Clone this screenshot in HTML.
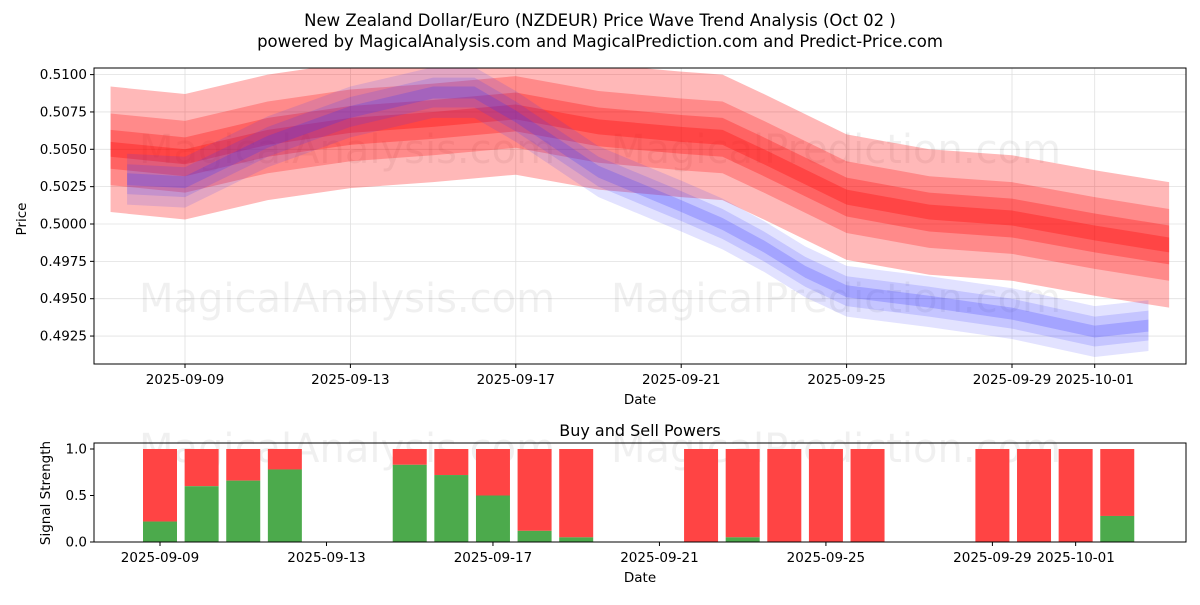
<!DOCTYPE html>
<html><head><meta charset="utf-8">
<style>
body{margin:0;background:#fff;font-family:"Liberation Sans","DejaVu Sans",sans-serif;}
svg text{font-family:"DejaVu Sans","Liberation Sans",sans-serif;}
</style></head>
<body>
<svg id="c" width="1200" height="600" viewBox="0 0 1200 600" xmlns="http://www.w3.org/2000/svg">
<defs><clipPath id="pc"><rect x="94" y="68" width="1092" height="296"/></clipPath></defs>
<rect width="1200" height="600" fill="#fff"/>
<text x="600" y="26" text-anchor="middle" font-size="16.5">New Zealand Dollar/Euro (NZDEUR) Price Wave Trend Analysis (Oct 02 )</text>
<text x="600" y="47" text-anchor="middle" font-size="16.5">powered by MagicalAnalysis.com and MagicalPrediction.com and Predict-Price.com</text>
<g id="topg"></g>
<g id="bandg" clip-path="url(#pc)"></g>
<g id="topaxes"></g>
<g id="botg"></g>
</svg>
<script>
// ---- data ----
const yTicks = [0.4925,0.4950,0.4975,0.5000,0.5025,0.5050,0.5075,0.5100];
const xTickDays = [0,4,8,12,16,20,22];
const xTickLabels = ["2025-09-09","2025-09-13","2025-09-17","2025-09-21","2025-09-25","2025-09-29","2025-10-01"];
const redDays = [-1.8,0,2,4,6,8,10,12,13,14,16,18,20,22,23.8];
const redVals = [0.5050,0.5045,0.5058,0.5066,0.5070,0.5075,0.5065,0.5060,0.5058,0.5045,0.5018,0.5008,0.5004,0.4994,0.4986];
const blueDays = [-1.4,0,2,4,6,7,8,10,12,13,14,15,16,18,20,22,23.3];
const blueVals = [0.5030,0.5028,0.5055,0.5075,0.5088,0.5088,0.5072,0.5035,0.5012,0.5000,0.4985,0.4968,0.4955,0.4948,0.4940,0.4928,0.4932];
const barDays = [0,1,2,3,6,7,8,9,10,13,14,15,16,17,20,21,22,23];
const buyVals = [0.22,0.60,0.66,0.78,0.83,0.72,0.50,0.12,0.05,0.0,0.05,0.0,0.0,0.0,0.0,0.0,0.0,0.28];
const sigTicks = [0,0.5,1.0];

const NS="http://www.w3.org/2000/svg";
function mk(tag,attrs,parent,txt){const e=document.createElementNS(NS,tag);for(const k in attrs)e.setAttribute(k,attrs[k]);if(txt!==undefined)e.textContent=txt;parent.appendChild(e);return e;}
const gTop=document.getElementById('topg'), gBand=document.getElementById('bandg'), gAx=document.getElementById('topaxes'), gBot=document.getElementById('botg');
const L=94,R=1186,T1=68,B1=364,T2=443,B2=542;
const xT=d=>185+d*41.35;
const yT=v=>224-(v-0.5)/0.0025*37.35;
const xB=d=>160+d*41.62;
const yB=v=>542-v*93;

function wm(parent,y){
  const a=mk('text',{x:347,y:y,'text-anchor':'middle','font-size':40,fill:'#000','fill-opacity':0.06},parent,'MagicalAnalysis.com');
  
  
  const b=mk('text',{x:836,y:y,'text-anchor':'middle','font-size':40,fill:'#000','fill-opacity':0.06},parent,'MagicalPrediction.com');
  
  
}
yTicks.forEach(v=>{mk('line',{x1:L,x2:R,y1:yT(v),y2:yT(v),stroke:'#e0e0e0','stroke-width':0.8},gTop);});
xTickDays.forEach(d=>{mk('line',{x1:xT(d),x2:xT(d),y1:T1,y2:B1,stroke:'#e0e0e0','stroke-width':0.8},gTop);});
wm(gTop,163);wm(gTop,312);
function band(days,vals,hw,color,op,name){
  const up=days.map((d,i)=>xT(d)+','+yT(vals[i]+hw));
  const dn=days.map((d,i)=>xT(d)+','+yT(vals[i]-hw)).reverse();
  const p=mk('polygon',{points:up.concat(dn).join(' '),fill:color,'fill-opacity':op},gBand);
  
  
}
[[0.0042,0.28],[0.0024,0.25],[0.0013,0.28],[0.0005,0.3]].forEach(b=>band(redDays,redVals,b[0],'#ff0000',b[1],'red-wave-band'));
[[0.0017,0.14],[0.0010,0.17],[0.0004,0.22]].forEach(b=>band(blueDays,blueVals,b[0],'#3333ff',b[1],'blue-wave-band'));
mk('rect',{x:L,y:T1,width:R-L,height:B1-T1,fill:'none',stroke:'#000','stroke-width':1},gAx);
yTicks.forEach(v=>{mk('line',{x1:L-4,x2:L,y1:yT(v),y2:yT(v),stroke:'#000'},gAx);
  const t=mk('text',{x:L-7,y:yT(v)+4.5,'text-anchor':'end','font-size':13.5},gAx,v.toFixed(4));
  
  });
xTickDays.forEach((d,i)=>{mk('line',{x1:xT(d),x2:xT(d),y1:B1,y2:B1+4,stroke:'#000'},gAx);
  const t=mk('text',{x:xT(d),y:B1+20,'text-anchor':'middle','font-size':13.5},gAx,xTickLabels[i]);
  
  });
let t=mk('text',{x:640,y:404,'text-anchor':'middle','font-size':13.5},gAx,'Date');


t=mk('text',{x:26,y:219,'text-anchor':'middle','font-size':13.5,transform:'rotate(-90 26 219)'},gAx,'Price');



wm(gBot,462);
barDays.forEach((d,i)=>{
  const x=xB(d)-17,w=34;
  const r=mk('rect',{x:x,y:yB(1),width:w,height:yB(buyVals[i])-yB(1),fill:'#ff4444'},gBot);
  
  
  const g=mk('rect',{x:x,y:yB(buyVals[i]),width:w,height:yB(0)-yB(buyVals[i]),fill:'#4caa4c'},gBot);
  
  
});
mk('rect',{x:L,y:T2,width:R-L,height:B2-T2,fill:'none',stroke:'#000','stroke-width':1},gBot);
sigTicks.forEach(v=>{mk('line',{x1:L-4,x2:L,y1:yB(v),y2:yB(v),stroke:'#000'},gBot);
  const s=mk('text',{x:L-7,y:yB(v)+4.5,'text-anchor':'end','font-size':13.5},gBot,v.toFixed(1));
  
  });
xTickDays.forEach((d,i)=>{mk('line',{x1:xB(d),x2:xB(d),y1:B2,y2:B2+4,stroke:'#000'},gBot);
  const s=mk('text',{x:xB(d),y:B2+20,'text-anchor':'middle','font-size':13.5},gBot,xTickLabels[i]);
  
  });
t=mk('text',{x:640,y:436,'text-anchor':'middle','font-size':16},gBot,'Buy and Sell Powers');


t=mk('text',{x:640,y:582,'text-anchor':'middle','font-size':13.5},gBot,'Date');


t=mk('text',{x:50,y:493,'text-anchor':'middle','font-size':13.5,transform:'rotate(-90 50 493)'},gBot,'Signal Strength');


</script>
</body></html>
